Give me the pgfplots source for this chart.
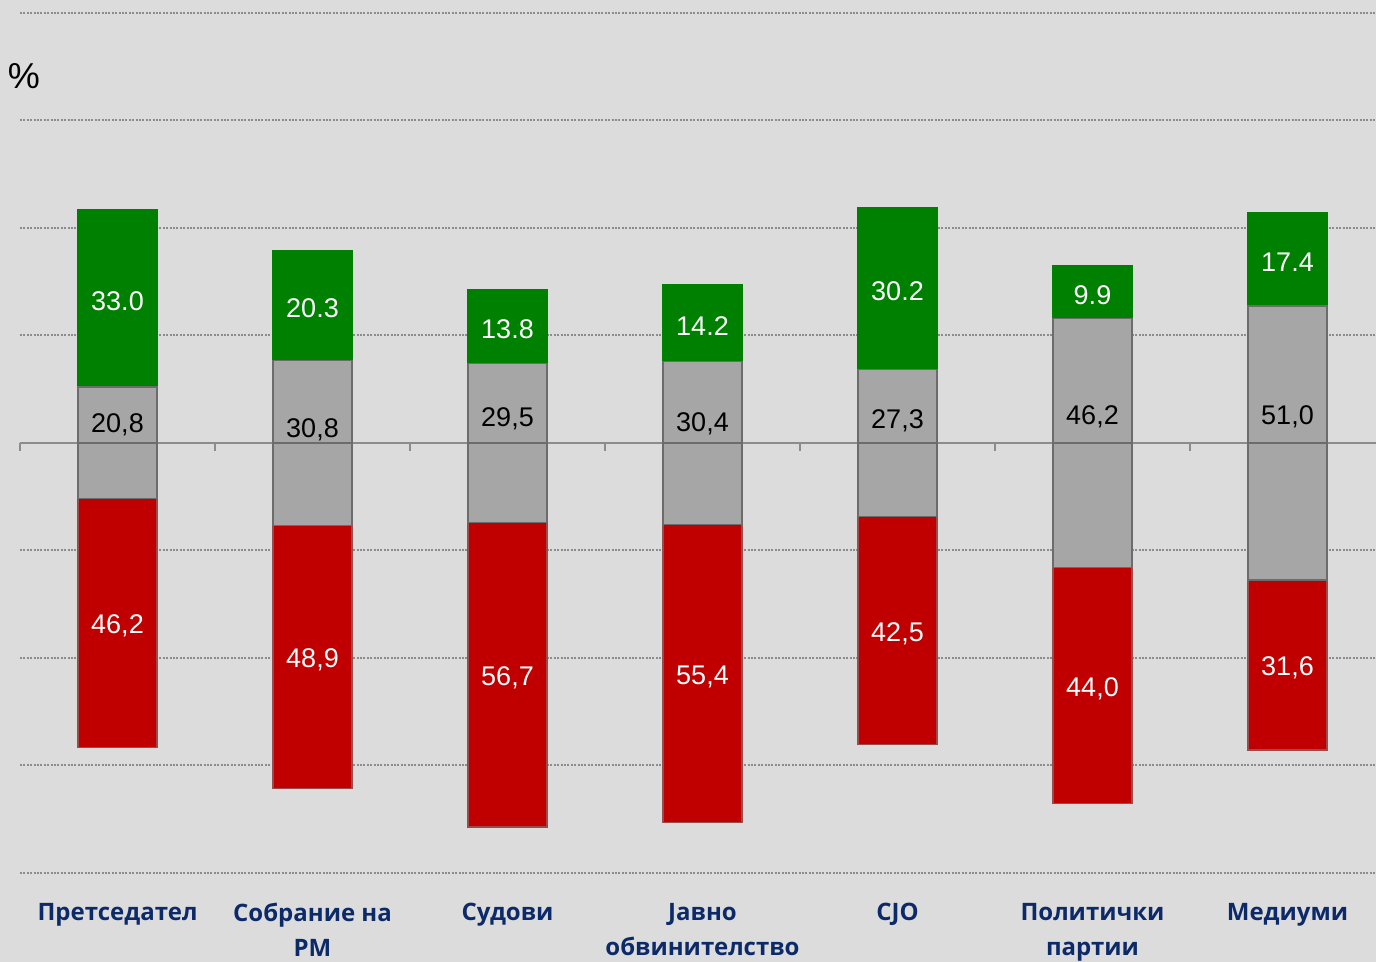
\documentclass[border=0pt]{standalone}
\usepackage{pgfplots}
\pgfplotsset{compat=1.18}
\usepackage{pgfplotstable}
\usepackage{fontspec}
\setmainfont{Liberation Sans}
\newfontfamily\numfont{Liberation Sans}
\newfontfamily\catfont{Open Sans}
\definecolor{bg}{HTML}{DCDCDC}
\definecolor{cgreen}{HTML}{008000}
\definecolor{cgray}{HTML}{A6A6A6}
\definecolor{cred}{HTML}{C00000}
\definecolor{navy}{HTML}{0D2A68}
\definecolor{gridc}{HTML}{8C8C8C}
\definecolor{zeroc}{HTML}{8C8C8C}

\pgfplotstableread{
x green gray red grayl gs ys rs
1 33.0 20.8 46.2 3.9 33.0 20,8 46,2
2 20.3 30.8 48.9 3.0 20.3 30,8 48,9
3 13.8 29.5 56.7 5.0 13.8 29,5 56,7
4 14.2 30.4 55.4 4.1 14.2 30,4 55,4
5 30.2 27.3 42.5 4.7 30.2 27,3 42,5
6 9.9 46.2 44.0 5.4 9.9 46,2 44,0
7 17.4 51.0 31.6 5.4 17.4 51,0 31,6
}\data

\begin{document}
\begin{tikzpicture}
\useasboundingbox (0,0) rectangle (688pt,481pt);
\fill[bg] (0,0) rectangle (688pt,481pt);
\node[anchor=center, font=\numfont\fontsize{18}{20}\selectfont] at (12pt,443pt) {\%};
\pgfplotsset{
  common/.style={
    at={(10pt,44.5pt)}, anchor=south west,
    scale only axis, width=682.5pt, height=430pt,
    xmin=0.5, xmax=7.5, ymin=-80, ymax=80,
    clip=false,
  }
}
\begin{axis}[common,
  ybar stacked, stack negative=separate, bar width=39.5pt,
  axis line style={draw=none},
  ytick={-80,-60,...,80}, yticklabels={},
  ymajorgrids, grid style={gridc, line width=1pt, dash pattern=on 1pt off 0.7pt},
  major tick length=0pt,
  xtick={1,...,7},
  xticklabels={Претседател, Собрание на\\РМ, Судови, Јавно\\обвинителство, CJO, Политички\\партии, Медиуми},
  xticklabel style={align=center, anchor=north, yshift=-11.5pt,
    font=\catfont\bfseries\fontsize{12}{17.5}\selectfont, text=navy},
]
% negative side: lower half of the grey bar, then red
\addplot[fill=cgray, draw=gray!85!black, line width=0.6pt] table[x=x, y expr=-\thisrow{gray}/2] {\data};
\addplot[fill=cred, draw=gray!60!cred, line width=0.6pt] table[x=x, y expr=-\thisrow{red}] {\data};
% positive side: upper half of the grey bar, then green
\addplot[fill=cgray, draw=gray!85!black, line width=0.6pt] table[x=x, y expr=\thisrow{gray}/2] {\data};
\addplot[fill=cgreen, draw=cgreen, line width=0.6pt] table[x=x, y=green] {\data};
\draw[zeroc, line width=0.9pt] (axis cs:0.5,0) -- (axis cs:7.5,0);
\draw[zeroc, line width=0.7pt] (axis cs:0.5,0) -- ([yshift=-4pt]axis cs:0.5,0);
\draw[zeroc, line width=0.7pt] (axis cs:1.5,0) -- ([yshift=-4pt]axis cs:1.5,0);
\draw[zeroc, line width=0.7pt] (axis cs:2.5,0) -- ([yshift=-4pt]axis cs:2.5,0);
\draw[zeroc, line width=0.7pt] (axis cs:3.5,0) -- ([yshift=-4pt]axis cs:3.5,0);
\draw[zeroc, line width=0.7pt] (axis cs:4.5,0) -- ([yshift=-4pt]axis cs:4.5,0);
\draw[zeroc, line width=0.7pt] (axis cs:5.5,0) -- ([yshift=-4pt]axis cs:5.5,0);
\draw[zeroc, line width=0.7pt] (axis cs:6.5,0) -- ([yshift=-4pt]axis cs:6.5,0);
\end{axis}
\begin{axis}[common, hide axis,
  every node near coord/.append style={anchor=center, inner sep=0pt, yshift=-1.5pt, font=\numfont\fontsize{13.5}{16}\selectfont},
]
\addplot[draw=none, mark=none, nodes near coords, point meta=explicit symbolic,
  every node near coord/.append style={text=white}]
  table[x=x, y expr=\thisrow{gray}/2+\thisrow{green}/2, meta=gs] {\data};
\addplot[draw=none, mark=none, nodes near coords, point meta=explicit symbolic,
  every node near coord/.append style={text=black}]
  table[x=x, y=grayl, meta=ys] {\data};
\addplot[draw=none, mark=none, nodes near coords, point meta=explicit symbolic,
  every node near coord/.append style={text=white}]
  table[x=x, y expr=-\thisrow{gray}/2-\thisrow{red}/2, meta=rs] {\data};
\end{axis}
\end{tikzpicture}
\end{document}
